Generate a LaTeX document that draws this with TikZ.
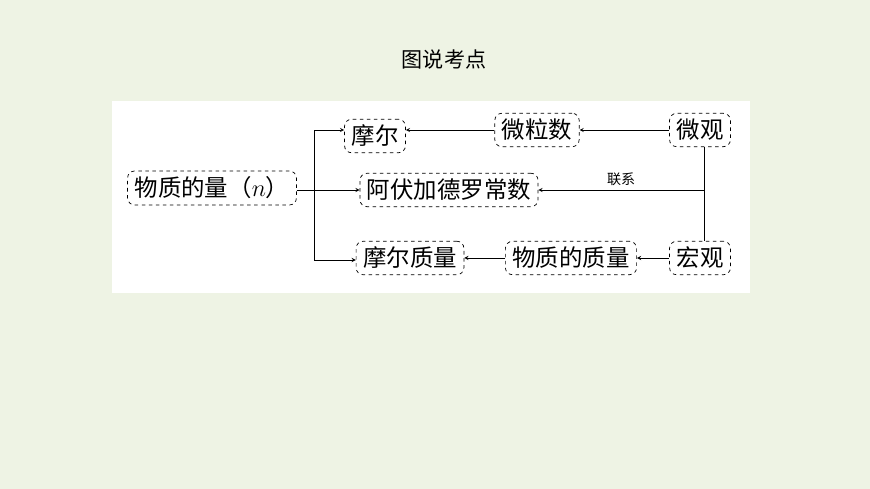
\documentclass[tikz,border=0pt]{standalone}
\usepackage{fontspec}
\newfontfamily\cjk{Noto Sans CJK SC}
\usetikzlibrary{positioning}
\definecolor{bgreen}{HTML}{EEF3E4}
\tikzset{
  term/.style={draw, dashed, rounded corners=6pt, semithick, inner xsep=6pt, inner ysep=5pt, font=\cjk\fontsize{20}{22}\selectfont},
  link/.style={semithick, ->, >=stealth}
}
\begin{document}
\begin{tikzpicture}[x=0.03cm, y=-0.03cm]
    \fill[bgreen] (0,0) rectangle (870,489);
    \useasboundingbox (0,0) rectangle (870,489);
    \fill[white] (112,101) rectangle (750,293);

    \node[font=\cjk\fontsize{18}{20}\selectfont] (title) at (444,60) {图说考点};

    \node[term] (amount) at (212,188) {物质的量（$n$）};
    \node[term] (mole) at (375,136) {摩尔};
    \node[term] (count) at (537,130) {微粒数};
    \node[term] (micro) at (700,130) {微观};
    \node[term] (avog) at (449,190) {阿伏加德罗常数};
    \node[term] (molar) at (410,258) {摩尔质量};
    \node[term] (mass) at (571,258) {物质的质量};
    \node[term] (macro) at (700,258) {宏观};

    \coordinate (fork) at (314,190);
    \coordinate (join) at (704,190);

    \draw[semithick] (amount.east |- fork) -- (fork);
    \draw[link] (fork) |- (mole.west |- 0,130);
    \draw[link] (fork) -- (avog.west |- fork);
    \draw[link] (fork) |- (molar.west |- 0,260);

    \draw[link] (count) -- (mole.east |- count);
    \draw[link] (micro) -- (count);
    \draw[link] (macro) -- (mass);
    \draw[link] (mass) -- (molar);

    \draw[semithick] (micro.south -| join) -- (macro.north -| join);
    \draw[link] (join) -- node[above, font=\cjk\fontsize{12}{13}\selectfont] {联系} (avog.east |- join);
\end{tikzpicture}
\end{document}
